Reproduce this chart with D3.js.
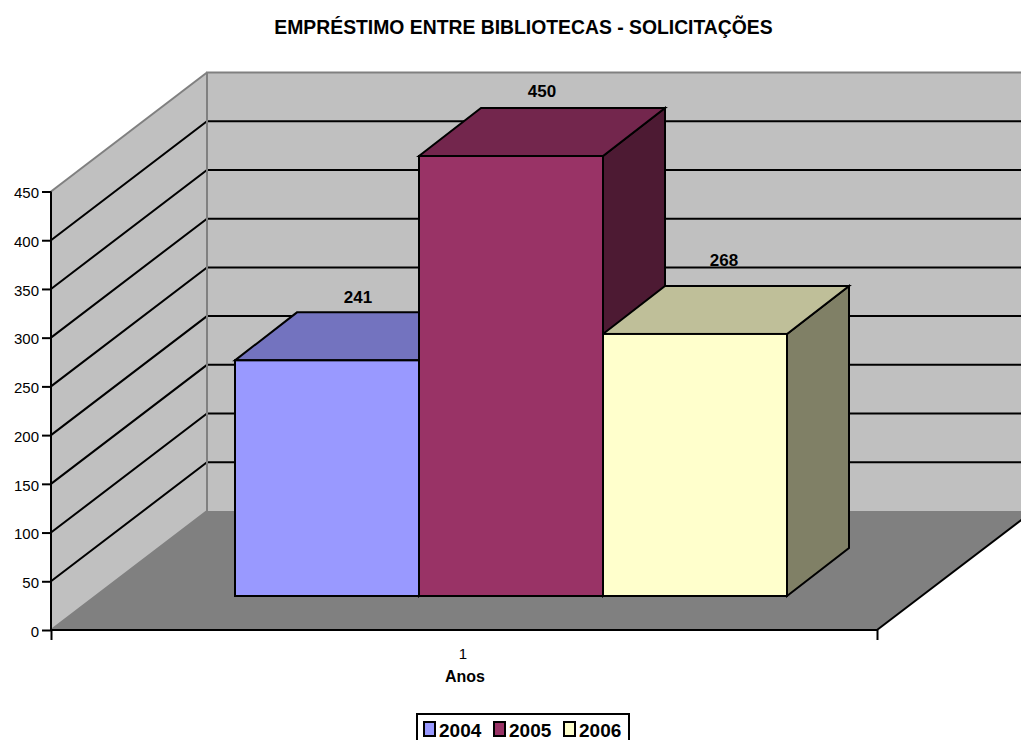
<!DOCTYPE html>
<html><head><meta charset="utf-8">
<script src="https://cdn.jsdelivr.net/npm/d3@7"></script>
<style>html,body{margin:0;padding:0;background:#fff;overflow:hidden}svg{display:block}text{font-family:"Liberation Sans",Arial,sans-serif;fill:#000}</style>
</head><body><svg id="c" width="1021" height="740"></svg>
<script>
const titleText = "EMPRÉSTIMO ENTRE BIBLIOTECAS - SOLICITAÇÕES";
const axisTitle = "Anos";
const categoryLabels = ["1"];
const years = ["2004", "2005", "2006"];
const values = [241, 450, 268];
const yTicks = [0, 50, 100, 150, 200, 250, 300, 350, 400, 450];
const frontColors = ["#9999FF", "#993366", "#FFFFCC"];
const topColors = ["#7373BF", "#73264D", "#BFBF99"];
const sideColors = ["#4D4D80", "#4D1A33", "#808066"];

const svg = d3.select("#c");
const W = 1021;
const y = d3.scaleLinear().domain([0, 450]).range([630, 191.5]);
const x = d3.scaleLinear().domain([0, 1]).range([51, 877]);
const bar = d3.scaleBand().domain(years).range([235, 787]);
const barBase = 596;
const yBar = d3.scaleLinear().domain([0, 450]).range([barBase, 156]);
const depthX = 156, depthY = 119, barDX = 62, barDY = 48;
const pts = a => a.map(p => p.join(",")).join(" ");
const SW = 2;

svg.append("text").attr("x", 523.5).attr("y", 34).attr("text-anchor", "middle")
  .attr("font-weight", "bold").attr("font-size", 19.35).text(titleText);

// walls
const x0 = x(0), x1 = x(1), y0 = y(0), yTop = y(450);
svg.append("polygon").attr("fill", "#C0C0C0")
  .attr("points", pts([[x0 + depthX, yTop - depthY], [W + 20, yTop - depthY], [W + 20, y0 - depthY], [x0 + depthX, y0 - depthY]]));
svg.append("polygon").attr("fill", "#C0C0C0")
  .attr("points", pts([[x0, yTop], [x0 + depthX, yTop - depthY], [x0 + depthX, y0 - depthY], [x0, y0]]));
// floor
svg.append("polygon").attr("fill", "#808080")
  .attr("points", pts([[x0, y0], [x1, y0], [x1 + depthX, y0 - depthY], [x0 + depthX, y0 - depthY]]));
// wall edges
svg.append("polyline").attr("fill", "none").attr("stroke", "#808080").attr("stroke-width", SW)
  .attr("points", pts([[x0, y0], [x0 + depthX, y0 - depthY], [x0 + depthX, yTop - depthY], [W + 20, yTop - depthY]]));
svg.append("line").attr("stroke", "#808080").attr("stroke-width", SW)
  .attr("x1", x0).attr("y1", yTop).attr("x2", x0 + depthX).attr("y2", yTop - depthY);
// gridlines
const grid = yTicks.filter(t => t > 0 && t < 450);
svg.append("g").selectAll("polyline").data(grid).join("polyline")
  .attr("fill", "none").attr("stroke", "#000").attr("stroke-width", SW)
  .attr("points", d => pts([[x0, y(d)], [x0 + depthX, y(d) - depthY], [W + 20, y(d) - depthY]]));
svg.append("line").attr("stroke", "#808080").attr("stroke-width", SW)
  .attr("x1", x0 + depthX).attr("x2", x0 + depthX).attr("y1", yTop - depthY).attr("y2", y0 - depthY);
// floor right edge
svg.append("line").attr("stroke", "#000").attr("stroke-width", SW)
  .attr("x1", x1).attr("y1", y0).attr("x2", x1 + depthX).attr("y2", y0 - depthY);

// bars
const bars = svg.append("g").attr("stroke", "#000").attr("stroke-width", SW);
years.forEach((yr, i) => {
  const l = bar(yr), r = l + bar.bandwidth(), t = yBar(values[i]);
  bars.append("polygon").attr("fill", sideColors[i])
    .attr("points", pts([[r, t], [r + barDX, t - barDY], [r + barDX, barBase - barDY], [r, barBase]]));
  bars.append("polygon").attr("fill", topColors[i])
    .attr("points", pts([[l, t], [l + barDX, t - barDY], [r + barDX, t - barDY], [r, t]]));
});
years.forEach((yr, i) => {
  const t = yBar(values[i]);
  bars.append("rect").attr("x", bar(yr)).attr("y", t).attr("width", bar.bandwidth()).attr("height", barBase - t).attr("fill", frontColors[i]);
});
// value labels
const labelLift = [57, 59, 68];
svg.append("g").selectAll("text").data(values).join("text")
  .attr("text-anchor", "middle").attr("font-weight", "bold").attr("font-size", 17)
  .attr("x", (d, i) => bar(years[i]) + bar.bandwidth() / 2 + barDX / 2 - (i === 2 ? 2 : 0))
  .attr("y", (d, i) => yBar(d) - labelLift[i]).text(d => d);

// y axis
const ya = svg.append("g").attr("transform", `translate(${x0},0)`).attr("font-family", null)
  .call(d3.axisLeft(y).tickValues(yTicks).tickSize(9).tickPadding(3));
ya.attr("font-family", null);
ya.selectAll("path,line").attr("stroke", "#000").attr("stroke-width", SW);
ya.select(".domain").attr("d", `M0,${yTop}V${y0}`);
ya.selectAll("text").attr("font-size", 15).attr("dy", "0.32em").attr("y", 1.5).style("fill", "#000");

// x axis
const xa = svg.append("g").attr("transform", `translate(0,${y0})`)
  .call(d3.axisBottom(x).tickValues([0, 1]).tickSize(10).tickFormat(""));
xa.selectAll("path,line").attr("stroke", "#000").attr("stroke-width", SW);
xa.select(".domain").attr("d", `M${x0},0H${x1}`);
svg.append("text").attr("x", 463).attr("y", 659)
  .attr("text-anchor", "middle").attr("font-size", 15).text(categoryLabels[0]);
svg.append("text").attr("x", 465).attr("y", 682)
  .attr("text-anchor", "middle").attr("font-weight", "bold").attr("font-size", 16).text(axisTitle);

// legend
const leg = svg.append("g");
leg.append("rect").attr("x", 417).attr("y", 714).attr("width", 212).attr("height", 40)
  .attr("fill", "#fff").attr("stroke", "#000").attr("stroke-width", SW);
const legX = d3.scalePoint().domain(years).range([424, 564]);
years.forEach((yr, i) => {
  leg.append("rect").attr("x", legX(yr)).attr("y", 722).attr("width", 11).attr("height", 14)
    .attr("fill", frontColors[i]).attr("stroke", "#000").attr("stroke-width", SW);
  leg.append("text").attr("x", legX(yr) + 15).attr("y", 737).attr("font-weight", "bold").attr("font-size", 19).text(yr);
});
</script></body></html>
